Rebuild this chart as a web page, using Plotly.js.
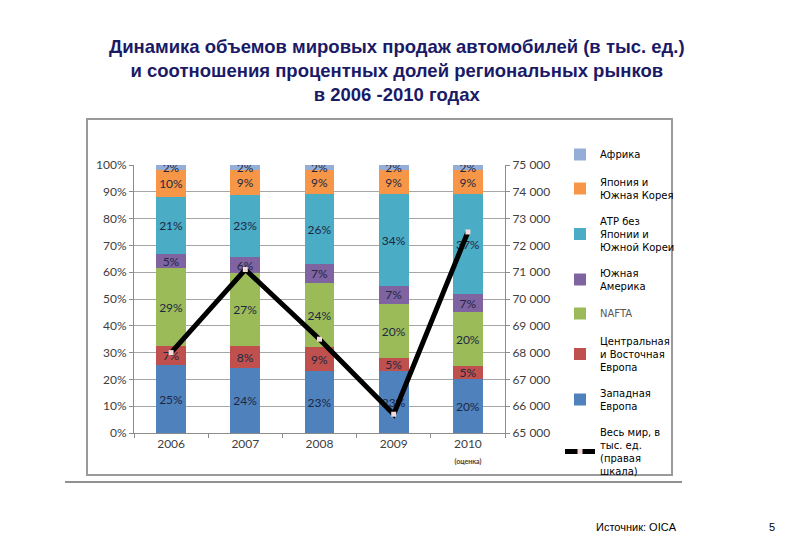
<!DOCTYPE html>
<html>
<head>
<meta charset="utf-8">
<script src="https://cdn.plot.ly/plotly-3.0.1.min.js"></script>
<style>
  html, body { margin: 0; padding: 0; background: #fff; }
  #chart { width: 800px; height: 553px; }
</style>
</head>
<body>
<div id="chart"></div>
<script>
// Years and regional shares (%), bottom to top of each stack
const years = ['2006', '2007', '2008', '2009', '2010'];
const yearLabels = ['2006', '2007', '2008', '2009',
  '2010<br><span style="font-size:7px;font-weight:bold">(оценка)</span>'];

const westernEurope = [25, 24, 23, 23, 20];
const easternEurope = [7, 8, 9, 5, 5];
const nafta = [29, 27, 24, 20, 20];
const southAmerica = [5, 6, 7, 7, 7];
const asiaPacific = [21, 23, 26, 34, 37];
const japanKorea = [10, 9, 9, 9, 9];
const africa = [2, 2, 2, 2, 2];

// World sales, thousand units (right scale)
const worldSales = [68000, 71100, 68500, 65700, 72500];

const regions = [
  { name: 'Западная<br>Европа', values: westernEurope, color: '#4F81BD' },
  { name: 'Центральная<br>и Восточная<br>Европа', values: easternEurope, color: '#C0504D' },
  { name: '<span style="color:#595959">NAFTA</span>', values: nafta, color: '#9BBB59' },
  { name: 'Южная<br>Америка', values: southAmerica, color: '#8064A2' },
  { name: 'АТР без<br>Японии и<br>Южной Кореи', values: asiaPacific, color: '#4BACC6' },
  { name: 'Япония и<br>Южная Корея', values: japanKorea, color: '#F79646' },
  { name: 'Африка', values: africa, color: '#95AED8' }
];

const traces = [];
regions.forEach((r, i) => {
  traces.push({
    type: 'bar',
    x: years,
    y: r.values,
    name: r.name,
    legendgroup: 'g' + i,
    legendrank: 100 - i,
    marker: { color: r.color },
    text: r.values.map(v => v + '%'),
    textposition: 'inside',
    insidetextanchor: 'middle',
    textangle: 0,
    constraintext: 'none',
    textfont: { family: 'Lato, sans-serif', size: 12, color: '#1d2842' },
    hoverinfo: 'x+name+text'
  });
});

traces.push({
  type: 'scatter',
  mode: 'lines+markers',
  x: years,
  y: worldSales,
  yaxis: 'y2',
  name: 'Весь мир, в<br>тыс. ед.<br>(правая<br>шкала)',
  legendgroup: 'world',
  legendrank: 200,
  line: { color: '#000', width: 5 },
  marker: { symbol: 'square', size: 5, color: '#f2dcdb' }
});

// plot area: x 134..505, y 165..433
const px = v => (v - 134) / 371;
const py = v => (433 - v) / 268;

const tickFont = { family: 'Lato, sans-serif', size: 12, color: '#404040' };

const layout = {
  width: 800,
  height: 553,
  margin: { l: 134, r: 295, t: 165, b: 120 },
  paper_bgcolor: '#fff',
  plot_bgcolor: '#fff',
  separators: ', ',
  barmode: 'stack',
  barnorm: 'percent',
  bargap: 0.6,
  showlegend: true,
  title: {
    text: 'Динамика объемов мировых продаж автомобилей (в тыс. ед.)<br>и соотношения процентных долей региональных рынков<br>в 2006 -2010 годах',
    x: 0.496,
    xanchor: 'center',
    y: 1 - 53 / 553,
    yanchor: 'top',
    font: { family: 'Liberation Sans, Arial, sans-serif', size: 18.5, color: '#1a1a66', weight: 'bold' }
  },
  xaxis: {
    type: 'category',
    tickvals: years,
    ticktext: yearLabels,
    tickfont: tickFont,
    showline: true,
    linecolor: '#8c8c8c',
    linewidth: 1,
    ticks: 'outside',
    tickson: 'boundaries',
    ticklen: 4,
    tickcolor: '#8c8c8c',
    showgrid: false
  },
  yaxis: {
    range: [0, 100],
    dtick: 10,
    ticksuffix: '%',
    tickfont: tickFont,
    showline: true,
    linecolor: '#8c8c8c',
    ticks: 'outside',
    ticklen: 4,
    tickcolor: '#8c8c8c',
    gridcolor: '#a6a6a6',
    gridwidth: 1,
    zeroline: false
  },
  yaxis2: {
    overlaying: 'y',
    side: 'right',
    range: [65000, 75000],
    dtick: 1000,
    tickformat: ',d',
    tickfont: tickFont,
    showline: true,
    linecolor: '#8c8c8c',
    ticks: 'outside',
    ticklen: 4,
    tickcolor: '#8c8c8c',
    showgrid: false,
    zeroline: false
  },
  legend: {
    x: px(560),
    y: py(140),
    xanchor: 'left',
    yanchor: 'top',
    maxheight: 400,
    bgcolor: 'rgba(0,0,0,0)',
    font: { family: 'DejaVu Sans, sans-serif', size: 10, color: '#000' },
    tracegroupgap: 10,
    valign: 'middle',
    itemwidth: 30
  },
  shapes: [
    { type: 'rect', xref: 'paper', yref: 'paper', layer: 'below',
      x0: px(87), x1: px(672), y0: py(475), y1: py(119),
      line: { color: '#9a9a9a', width: 2 } },
    { type: 'line', xref: 'paper', yref: 'paper',
      x0: px(65), x1: px(682), y0: py(482), y1: py(482),
      line: { color: '#222', width: 1 } }
  ],
  annotations: [
    { text: 'Источник: OICA', xref: 'paper', yref: 'paper', x: px(594), y: py(527),
      xanchor: 'left', yanchor: 'middle', showarrow: false,
      font: { family: 'Liberation Sans, Arial, sans-serif', size: 11, color: '#000' } },
    { text: '5', xref: 'paper', yref: 'paper', x: px(772), y: py(527),
      xanchor: 'center', yanchor: 'middle', showarrow: false,
      font: { family: 'Liberation Sans, Arial, sans-serif', size: 11, color: '#000' } }
  ]
};

Plotly.newPlot('chart', traces, layout, { displayModeBar: false, staticPlot: true });
</script>
</body>
</html>
